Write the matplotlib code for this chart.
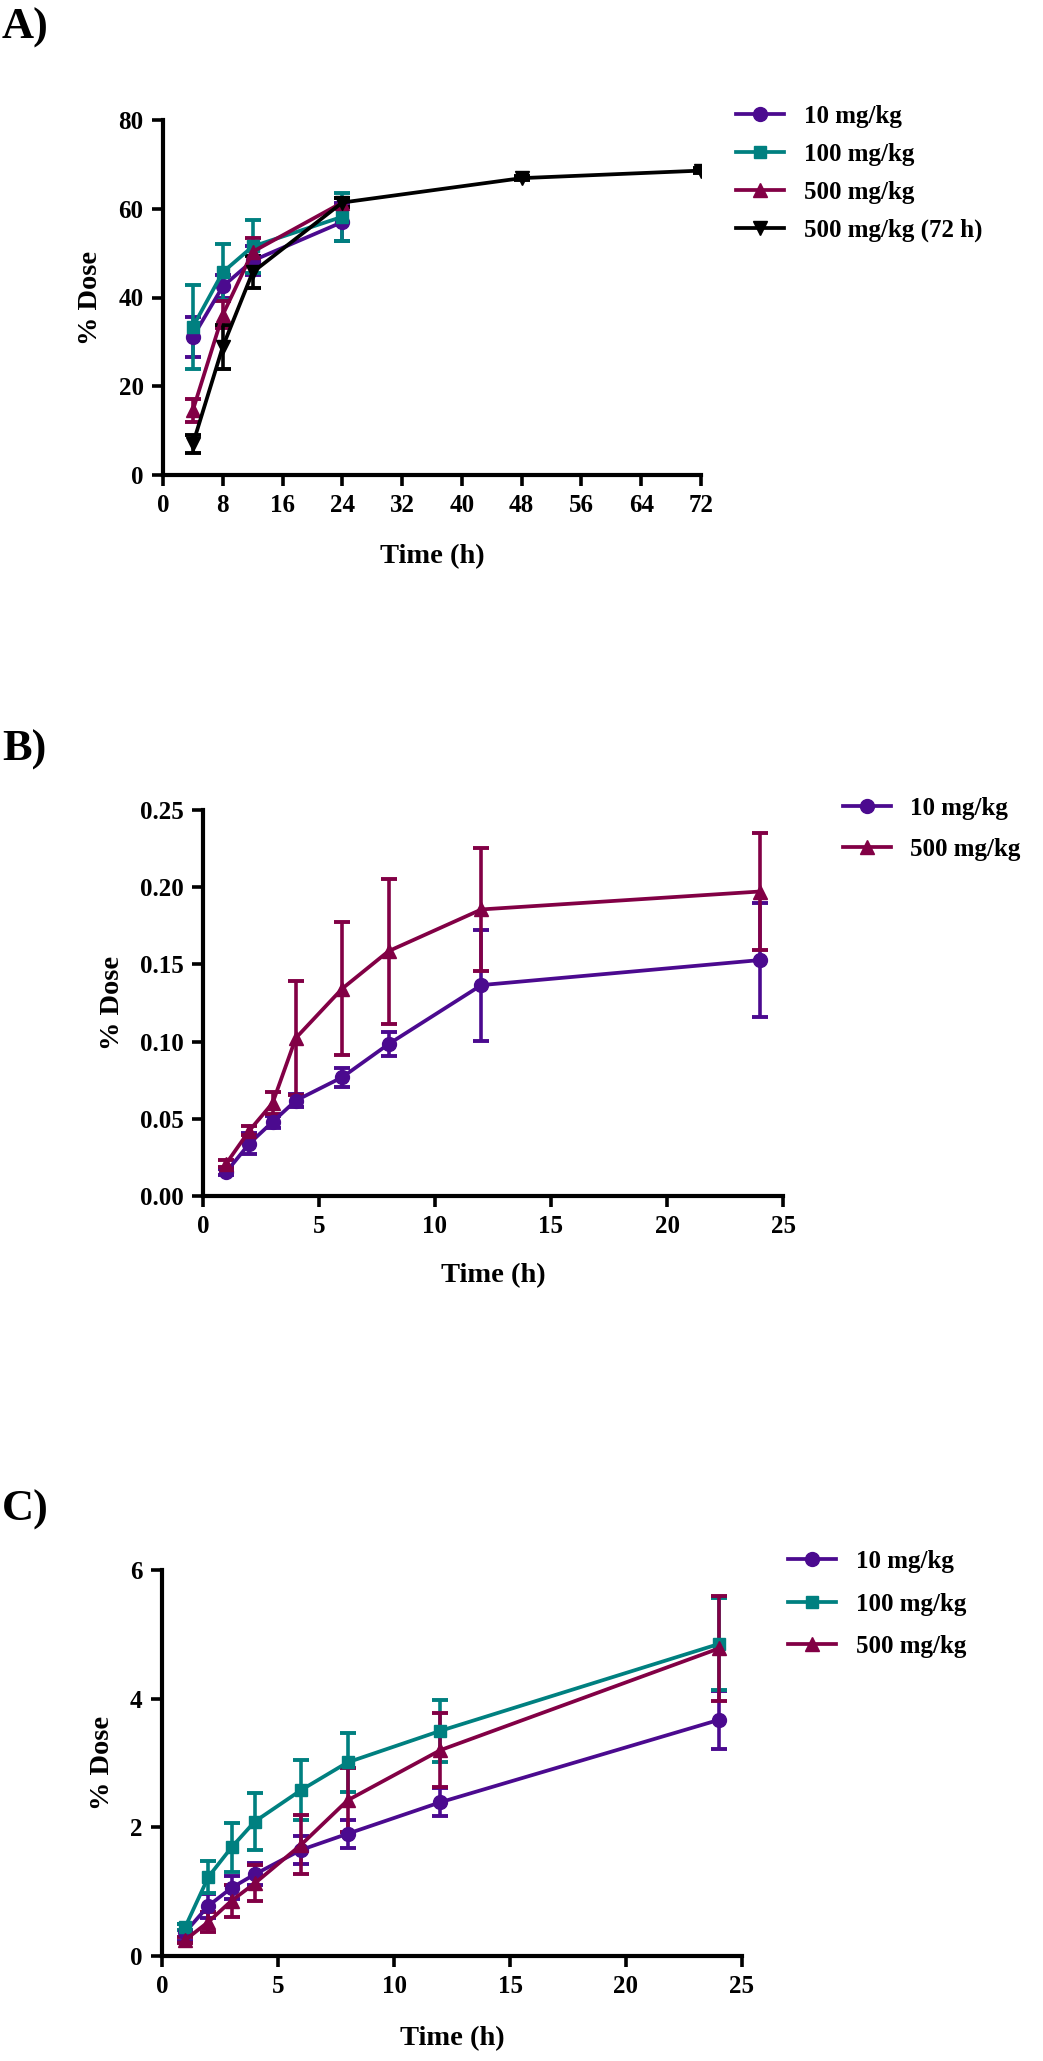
import matplotlib
matplotlib.use('Agg')
import matplotlib.pyplot as plt

plt.rcParams['font.family'] = ['Liberation Serif', 'DejaVu Serif']
plt.rcParams['font.weight'] = 'bold'

PURPLE = '#4b0a8f'
TEAL = '#008080'
MAROON = '#820045'
BLACK = '#000000'

# Panel A
t_a = [4, 8, 12, 24]
a10 = [31.1, 42.5, 48.3, 57.0]
a10_err = [4.6, 2.5, 3.2, 4.2]
a100 = [33.4, 45.7, 51.5, 58.2]
a100_err = [9.5, 6.3, 5.9, 5.4]
a500 = [14.6, 36.1, 50.3, 61.4]
a500_err = [2.6, 3.0, 3.0, 1.0]
t_a72 = [4, 8, 12, 24, 48, 72]
a72 = [7.0, 28.9, 45.7, 61.4, 66.9, 68.6]
a72_err = [2.0, 5.0, 3.6, 1.0, 0.5, 0.5]

# Panel B
t_b = [1, 2, 3, 4, 6, 8, 12, 24]
b10 = [0.0155, 0.034, 0.048, 0.0618, 0.0769, 0.0984, 0.1366, 0.1528]
b10_err = [0.002, 0.0065, 0.004, 0.004, 0.006, 0.008, 0.036, 0.037]
b500 = [0.021, 0.0424, 0.0602, 0.1023, 0.1343, 0.1586, 0.1856, 0.1972]
b500_err = [0.002, 0.003, 0.007, 0.037, 0.043, 0.047, 0.040, 0.038]

# Panel C
t_c = [1, 2, 3, 4, 6, 8, 12, 24]
c10 = [0.37, 0.78, 1.06, 1.27, 1.65, 1.90, 2.39, 3.67]
c10_err = [0.13, 0.19, 0.18, 0.17, 0.22, 0.22, 0.22, 0.45]
c100 = [0.45, 1.23, 1.69, 2.09, 2.58, 3.01, 3.50, 4.85]
c100_err = [0.05, 0.25, 0.38, 0.44, 0.47, 0.46, 0.48, 0.71]
c500 = [0.25, 0.53, 0.86, 1.13, 1.73, 2.42, 3.20, 4.78]
c500_err = [0.05, 0.15, 0.25, 0.28, 0.46, 0.50, 0.57, 0.81]

W, H = 1043, 2061
FS = 18
LFS = 20.5


def px_axes(fig, left, top, right, bottom):
    return fig.add_axes([left / W, 1 - bottom / H, (right - left) / W, (bottom - top) / H])


def series(ax, x, y, err, color, marker, label, ms=10):
    ax.errorbar(x, y, yerr=err, fmt='none', ecolor=color, elinewidth=2.6,
                capsize=6, capthick=2.8, zorder=2)
    ax.plot(x, y, color=color, lw=2.7, marker=marker, ms=ms, label=label,
            zorder=3)


def style(ax, xticks, yticks, xlim, ylim, yfmt=None, xpad=20):
    for s in ['top', 'right']:
        ax.spines[s].set_visible(False)
    for s in ['left', 'bottom']:
        ax.spines[s].set_linewidth(3)
    ax.set_xlim(xlim)
    ax.set_ylim(ylim)
    ax.set_xticks(xticks)
    ax.set_yticks(yticks)
    if yfmt:
        ax.set_yticklabels([yfmt.format(v) for v in yticks])
    ax.tick_params(direction='out', length=8, width=2.6, labelsize=FS, pad=6)
    for lab in ax.get_xticklabels() + ax.get_yticklabels():
        lab.set_fontweight('bold')
    ax.set_ylabel('% Dose', fontsize=LFS, fontweight='bold', labelpad=11)
    ax.set_xlabel('Time (h)', fontsize=LFS, fontweight='bold', labelpad=xpad)


def legend(ax, x, y, spacing):
    ax.legend(loc='upper left', bbox_to_anchor=(x / W, 1 - y / H),
              bbox_transform=ax.figure.transFigure, frameon=False,
              handlelength=1.9, handletextpad=0.8,
              labelspacing=spacing, borderpad=0, borderaxespad=0,
              prop={'weight': 'bold', 'size': FS})


fig = plt.figure(figsize=(W / 100, H / 100), dpi=100)

# A
ax = px_axes(fig, 163, 120, 701, 475)
series(ax, t_a, a10, a10_err, PURPLE, 'o', '10 mg/kg')
series(ax, t_a, a100, a100_err, TEAL, 's', '100 mg/kg', ms=9)
series(ax, t_a, a500, a500_err, MAROON, '^', '500 mg/kg')
series(ax, t_a72, a72, a72_err, BLACK, 'v', '500 mg/kg (72 h)')
style(ax, range(0, 73, 8), range(0, 81, 20), (0, 72), (0, 80), xpad=19)
legend(ax, 736, 105, 0.6)

# B
ax = px_axes(fig, 203, 810, 783, 1196)
series(ax, t_b, b10, b10_err, PURPLE, 'o', '10 mg/kg')
series(ax, t_b, b500, b500_err, MAROON, '^', '500 mg/kg')
style(ax, range(0, 26, 5), [0, 0.05, 0.10, 0.15, 0.20, 0.25], (0, 25), (0, 0.25),
      yfmt='{:.2f}', xpad=18)
legend(ax, 843, 797, 0.72)

# C
ax = px_axes(fig, 162, 1570, 742, 1956)
series(ax, t_c, c10, c10_err, PURPLE, 'o', '10 mg/kg')
series(ax, t_c, c100, c100_err, TEAL, 's', '100 mg/kg', ms=9)
series(ax, t_c, c500, c500_err, MAROON, '^', '500 mg/kg')
style(ax, range(0, 26, 5), range(0, 7, 2), (0, 25), (0, 6), xpad=20)
legend(ax, 788, 1550, 0.78)

for lab, yc in [('A)', 28), ('B)', 750), ('C)', 1510)]:
    fig.text(2 / W, 1 - yc / H, lab, fontsize=32, fontweight='bold',
             ha='left', va='center')

fig.savefig('out.png', dpi=100)
